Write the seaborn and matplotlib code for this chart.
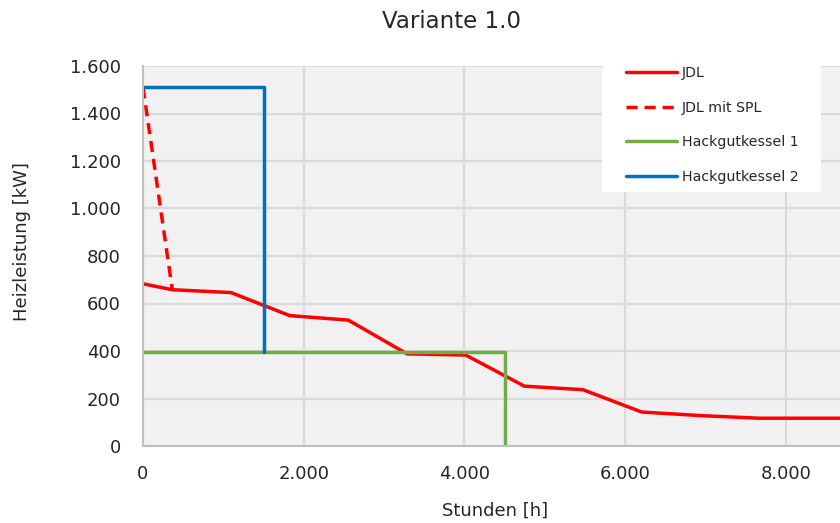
import matplotlib
matplotlib.use("Agg")
import matplotlib.pyplot as plt
import seaborn as sns
import pandas as pd
from matplotlib.ticker import FuncFormatter, FixedLocator
from matplotlib.patches import Rectangle

# ---- data ----
jdl_hours = [0, 365, 1095, 1825, 2555, 3285, 4015, 4745, 5475, 6205, 6935, 7665, 8395, 8760]
jdl_kw = [683, 658, 646, 549, 530, 388, 383, 252, 237, 143, 128, 117, 117, 117]

spl_hours = [0, 365]
spl_kw = [1510, 658]

hk1_hours = [0, 4500, 4500]
hk1_kw = [395, 395, 0]

hk2_hours = [0, 1500, 1500]
hk2_kw = [1510, 1510, 395]

x_ticks = [0, 2000, 4000, 6000, 8000]
y_ticks = [0, 200, 400, 600, 800, 1000, 1200, 1400, 1600]

title = "Variante 1.0"
x_label = "Stunden [h]"
y_label = "Heizleistung [kW]"

# ---- style ----
sns.set_theme(style="white")
plt.rcParams["font.family"] = ["DejaVu Sans"]
txt_col = "#262626"

fig = plt.figure(figsize=(8.4, 5.23), dpi=100)
ax = fig.add_axes([143 / 840, 1 - 446 / 523, (847 - 143) / 840, (446 - 66) / 523])
ax.set_facecolor("#f1f1f1")

series = [
    ("JDL", jdl_hours, jdl_kw, "#ff0000", None),
    ("JDL mit SPL", spl_hours, spl_kw, "#ff0000", (0, (3.2, 2.0))),
    ("Hackgutkessel 1", hk1_hours, hk1_kw, "#70ad47", None),
    ("Hackgutkessel 2", hk2_hours, hk2_kw, "#0070c0", None),
]
for name, xs, ys, col, ls in series:
    df = pd.DataFrame({"x": xs, "y": ys})
    sns.lineplot(data=df, x="x", y="y", ax=ax, color=col, linewidth=2.5,
                 sort=False, estimator=None, label=name)
    if ls is not None:
        ax.get_lines()[-1].set_linestyle(ls)

ax.set_xlim(0, 8760)
ax.set_ylim(0, 1600)
ax.xaxis.set_major_locator(FixedLocator(x_ticks))
ax.yaxis.set_major_locator(FixedLocator(y_ticks))
fmt = FuncFormatter(lambda v, p: f"{int(v):,}".replace(",", "."))
ax.xaxis.set_major_formatter(fmt)
ax.yaxis.set_major_formatter(fmt)
ax.grid(True, color="#d9d9d9", linewidth=1.5)
ax.set_axisbelow(True)
for s in ["top", "right"]:
    ax.spines[s].set_visible(False)
for s in ["left", "bottom"]:
    ax.spines[s].set_color("#bfbfbf")
    ax.spines[s].set_linewidth(1.5)
ax.tick_params(axis="both", length=0, labelsize=13, labelcolor=txt_col)
ax.tick_params(axis="y", pad=16)
ax.tick_params(axis="x", pad=14)

ax.set_xlabel("")
ax.set_ylabel("")
fig.text(495 / 840, 1 - 511 / 523, x_label, ha="center", va="center", fontsize=13, color=txt_col)
fig.text(22 / 840, 1 - 242 / 523, y_label, ha="center", va="center", rotation=90, fontsize=13, color=txt_col)
fig.text(451 / 840, 1 - 22 / 523, title, ha="center", va="center", fontsize=16.5, color=txt_col)

# white legend background box
ax.add_patch(Rectangle((602 / 840, 1 - 192 / 523), (821 - 602) / 840, (192 - 65) / 523,
                       transform=fig.transFigure, facecolor="white", edgecolor="none",
                       zorder=1.5, clip_on=False))

leg = ax.legend(loc="upper left", bbox_to_anchor=(626 / 840, 1 - 66 / 523),
                bbox_transform=fig.transFigure, frameon=False,
                fontsize=10.2, handlelength=3.6, labelspacing=1.45,
                handletextpad=0.35, borderpad=0, borderaxespad=0)
for t in leg.get_texts():
    t.set_color(txt_col)
for h in leg.get_lines():
    h.set_linewidth(2.5)

fig.savefig("out.png", dpi=100)
